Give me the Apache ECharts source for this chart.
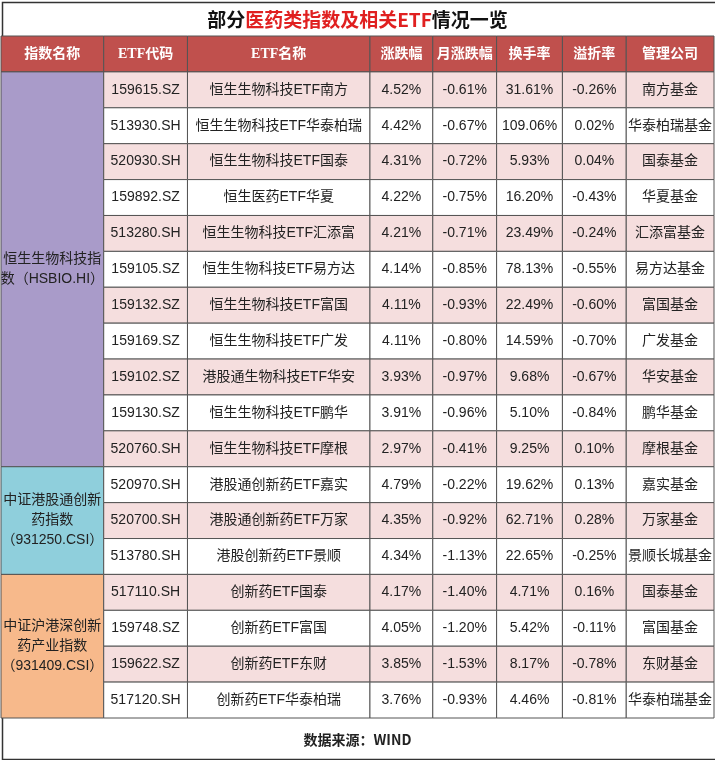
<!DOCTYPE html><html><head><meta charset="utf-8"><script src="https://cdn.jsdelivr.net/npm/echarts@6/dist/echarts.min.js"></script>
<style>html,body{margin:0;background:#fff}#c{width:715px;height:760px}</style></head><body><div id="c"></div><script>
const headers=['指数名称','ETF代码','ETF名称','涨跌幅','月涨跌幅','换手率','溢折率','管理公司'];
const codes=['159615.SZ','513930.SH','520930.SH','159892.SZ','513280.SH','159105.SZ','159132.SZ','159169.SZ','159102.SZ','159130.SZ','520760.SH','520970.SH','520700.SH','513780.SH','517110.SH','159748.SZ','159622.SZ','517120.SH'];
const names=['恒生生物科技ETF南方','恒生生物科技ETF华泰柏瑞','恒生生物科技ETF国泰','恒生医药ETF华夏','恒生生物科技ETF汇添富','恒生生物科技ETF易方达','恒生生物科技ETF富国','恒生生物科技ETF广发','港股通生物科技ETF华安','恒生生物科技ETF鹏华','恒生生物科技ETF摩根','港股通创新药ETF嘉实','港股通创新药ETF万家','港股创新药ETF景顺','创新药ETF国泰','创新药ETF富国','创新药ETF东财','创新药ETF华泰柏瑞'];
const change=[4.52,4.42,4.31,4.22,4.21,4.14,4.11,4.11,3.93,3.91,2.97,4.79,4.35,4.34,4.17,4.05,3.85,3.76];
const monthChange=[-0.61,-0.67,-0.72,-0.75,-0.71,-0.85,-0.93,-0.80,-0.97,-0.96,-0.41,-0.22,-0.92,-1.13,-1.40,-1.20,-1.53,-0.93];
const turnover=[31.61,109.06,5.93,16.20,23.49,78.13,22.49,14.59,9.68,5.10,9.25,19.62,62.71,22.65,4.71,5.42,8.17,4.46];
const premium=[-0.26,0.02,0.04,-0.43,-0.24,-0.55,-0.60,-0.70,-0.67,-0.84,0.10,0.13,0.28,-0.25,0.16,-0.11,-0.78,-0.81];
const companies=['南方基金','华泰柏瑞基金','国泰基金','华夏基金','汇添富基金','易方达基金','富国基金','广发基金','华安基金','鹏华基金','摩根基金','嘉实基金','万家基金','景顺长城基金','国泰基金','富国基金','东财基金','华泰柏瑞基金'];
const groups=['恒生生物科技指\n数（HSBIO.HI）','中证港股通创新\n药指数\n（931250.CSI）','中证沪港深创新\n药产业指数\n（931409.CSI）'];
const groupSizes=[11,3,4];
const groupColors=['#a99bc9','#8fcfdc','#f7b98b'];
const colW=[103,84,183,63,64,66,64,88];
const edges=[0];colW.forEach(w=>edges.push(edges[edges.length-1]+w));
const pct=v=>v.toFixed(2)+'%';
const cells=[];
headers.forEach((h,c)=>cells.push({value:[c,0,1],text:h,fill:'#c0504d',color:'#fff',bold:true,serif:c>0&&c<3}));
let r0=1;
groups.forEach((g,i)=>{cells.push({value:[0,r0,groupSizes[i]],text:g,fill:groupColors[i],color:'#222'});r0+=groupSizes[i];});
codes.forEach((code,i)=>{const f=i%2===0?'#f5dede':'#ffffff';
 [code,names[i],pct(change[i]),pct(monthChange[i]),pct(turnover[i]),pct(premium[i]),companies[i]].forEach((t,k)=>cells.push({value:[k+1,i+1,1],text:t,fill:f,color:'#222'}));});
const ch=echarts.init(document.getElementById('c'));
ch.setOption({animation:false,
 title:{text:'{a|部分}{b|医药类指数及相关ETF}{a|情况一览}',left:'center',top:5,textStyle:{rich:{a:{fontSize:19,fontWeight:'bold',color:'#111',fontFamily:'Noto Sans CJK SC'},b:{fontSize:19,fontWeight:'bold',color:'#e02020',fontFamily:'Noto Sans CJK SC'}}}},
 graphic:[{type:'rect',left:0,top:0,shape:{width:714,height:757},style:{fill:'none',stroke:'#333',lineWidth:1.5}},
  {type:'text',left:'center',top:733,style:{text:'数据来源：WIND',font:'bold 14px "Noto Sans CJK SC"',fill:'#222'}}],
 grid:{left:1,right:1,top:36,bottom:42},
 xAxis:{type:'value',min:0,max:edges[edges.length-1],show:false},
 yAxis:{type:'value',min:0,max:19,inverse:true,show:false},
 series:[{type:'custom',data:cells,renderItem:(p,api)=>{
   const d=cells[p.dataIndex];const c=d.value[0],r=d.value[1],s=d.value[2];
   const a=api.coord([edges[c],r]),b=api.coord([edges[c+1],r+s]);
   return {type:'group',children:[
    {type:'rect',shape:{x:a[0],y:a[1],width:b[0]-a[0],height:b[1]-a[1]},style:{fill:d.fill,stroke:'#555',lineWidth:1}},
    {type:'text',x:(a[0]+b[0])/2,y:(a[1]+b[1])/2,style:{text:d.text,align:'center',verticalAlign:'middle',fill:d.color,lineHeight:20,
      font:(d.bold?'bold ':'')+'14px '+(d.serif?'"Liberation Serif","Noto Sans CJK SC"':'"Liberation Sans","Noto Sans CJK SC"')}}]};
 }}]});
</script></body></html>
